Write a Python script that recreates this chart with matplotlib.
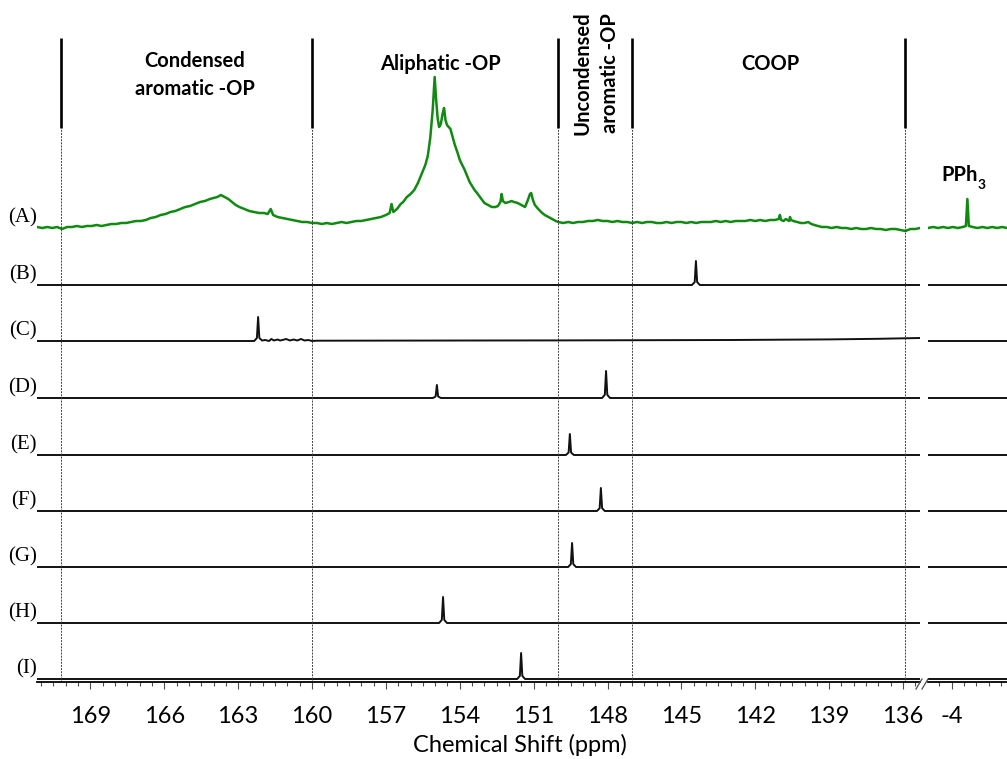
import numpy as np
import matplotlib.pyplot as plt
from matplotlib.lines import Line2D
import matplotlib.transforms as mtransforms

# ---- data ----
row_labels = ['(A)', '(B)', '(C)', '(D)', '(E)', '(F)', '(G)', '(H)', '(I)']

# (A) lignin sample, main window (ppm, intensity)
a_ppm = [171.17, 170.95, 170.75, 170.55, 170.35, 170.15, 169.95, 169.75, 169.55, 169.35,
         169.15, 168.95, 168.75, 168.55, 168.35, 168.15, 167.95, 167.75, 167.55, 167.35,
         167.15, 166.95, 166.75, 166.55, 166.35, 166.15, 165.95, 165.75, 165.55, 165.35,
         165.15, 164.95, 164.75, 164.55, 164.35, 164.15, 164.00, 163.85, 163.70, 163.55,
         163.40, 163.25, 163.10, 162.95, 162.75, 162.55, 162.35, 162.15, 161.95, 161.80,
         161.68, 161.58, 161.40, 161.20, 161.00, 160.80, 160.60, 160.40, 160.20, 160.00,
         159.80, 159.60, 159.40, 159.20, 159.00, 158.80, 158.60, 158.40, 158.20, 158.00,
         157.80, 157.60, 157.40, 157.20, 157.00, 156.85, 156.77, 156.70, 156.55, 156.40,
         156.30, 156.15, 156.00, 155.85, 155.70, 155.55, 155.40, 155.30, 155.20, 155.10,
         155.02, 154.96, 154.90, 154.84, 154.77, 154.70, 154.64, 154.58, 154.52, 154.45,
         154.38, 154.30, 154.20, 154.10, 154.00, 153.90, 153.80, 153.70, 153.60, 153.50,
         153.40, 153.30, 153.15, 153.00, 152.85, 152.70, 152.55, 152.45, 152.35, 152.30,
         152.25, 152.15, 152.00, 151.90, 151.80, 151.65, 151.50, 151.35, 151.25, 151.15,
         151.10, 151.03, 150.95, 150.85, 150.70, 150.55, 150.40, 150.25, 150.10, 150.00,
         149.80, 149.60, 149.40, 149.20, 149.00, 148.80, 148.60, 148.40, 148.20, 148.00,
         147.80, 147.60, 147.40, 147.20, 147.00, 146.80, 146.60, 146.40, 146.20, 146.00,
         145.80, 145.60, 145.40, 145.20, 145.00, 144.80, 144.60, 144.40, 144.20, 144.00,
         143.80, 143.60, 143.40, 143.20, 143.00, 142.80, 142.60, 142.40, 142.20, 142.00,
         141.80, 141.60, 141.40, 141.20, 141.05, 141.00, 140.95, 140.85, 140.76, 140.62,
         140.59, 140.55, 140.45, 140.30, 140.15, 140.00, 139.85, 139.72, 139.60, 139.45,
         139.30, 139.10, 138.90, 138.70, 138.50, 138.30, 138.10, 137.90, 137.70, 137.50,
         137.30, 137.10, 136.90, 136.70, 136.50, 136.30, 136.10, 135.90, 135.70, 135.50,
         135.31]
a_int = [1, 0, 1, 0, 1, -1, 1, 1, 2, 1,
         2, 2, 3, 2, 3, 4, 4, 5, 5, 6,
         7, 7, 8, 10, 11, 13, 14, 16, 17, 19,
         21, 22, 24, 26, 27, 29, 30, 31, 33, 31,
         29, 26, 23, 21, 19, 17, 16, 15, 15, 14,
         19, 13, 11, 10, 9, 8, 7, 6, 6, 5,
         5, 4, 5, 4, 5, 6, 5, 6, 7, 7,
         8, 9, 10, 11, 13, 15, 24, 16, 19, 24,
         26, 31, 34, 38, 45, 54, 63, 72, 90, 118,
         151, 128, 110, 101, 104, 114, 120, 108, 103, 101,
         99, 92, 83, 76, 68, 63, 58, 52, 46, 42,
         38, 35, 30, 25, 23, 21, 21, 22, 26, 34,
         27, 25, 26, 27, 26, 25, 23, 21, 27, 34,
         35, 28, 23, 20, 16, 13, 11, 9, 7, 6,
         5, 6, 5, 6, 6, 7, 7, 8, 7, 7,
         6, 7, 6, 6, 5, 6, 5, 6, 6, 5,
         5, 6, 5, 6, 6, 5, 6, 5, 6, 6,
         6, 7, 6, 7, 6, 7, 7, 7, 8, 7,
         8, 7, 8, 8, 9, 13, 8, 7, 9, 7,
         11, 8, 7, 6, 5, 5, 6, 4, 3, 2,
         1, 1, 0, 1, 0, 0, -1, 0, -1, -1,
         0, -1, -1, -2, -1, -1, -2, -3, -1, -1,
         0]

# (A) PPh3 window
a_ppm_r = [-3.04, -3.25, -3.45, -3.65, -3.85, -4.05, -4.25, -4.45, -4.58, -4.64,
           -4.70, -4.85, -5.05, -5.25, -5.45, -5.65, -5.85, -6.05, -6.25]
a_int_r = [0, 1, 0, 1, 0, 1, 0, 1, 2, 29, 2, 1, 0, 1, 0, 1, 0, 1, 0]

# (C) has a small noisy patch after its signal and a slow rise towards the right end
c_ppm = [171.17, 162.35, 162.24, 162.19, 162.14, 162.03, 161.90, 161.75, 161.65, 161.55,
         161.40, 161.30, 161.20, 161.05, 160.90, 160.75, 160.60, 160.45, 160.30, 160.15,
         160.00, 159.80, 150.00, 143.00, 139.00, 137.00, 135.31]
c_int = [0, 0, 3, 24, 3, 0.5, 1, 0, 2, 0.5,
         1.5, 0.5, 1, 2, 0.5, 1.5, 0.5, 2, 0.5, 1,
         0, 0.3, 0.6, 1.0, 1.6, 2.2, 3]

# sharp signals of the other model compounds: ppm and height
peak_ppm = [[144.41],
            None,
            [154.93, 148.06],
            [149.53],
            [148.27],
            [149.44],
            [154.68],
            [151.51]]
peak_height = [[24],
               None,
               [13, 27],
               [21],
               [23],
               [24],
               [26],
               [26]]

region_edges = [170.2, 160.0, 150.0, 147.0, 135.9]
main_ticks = [169, 166, 163, 160, 157, 154, 151, 148, 145, 142, 139, 136]
right_ticks = [-4]

# ---- layout ----
W, H = 1007, 759
AX_BOTTOM = 682  # pixel row of the axis line
offsets = [454, 397, 341, 284, 227, 171, 115, 59, 3]
MAIN_LIM = (171.17, 135.31)
RIGHT_LIM = (-3.04, -6.25)
GREEN = '#108a10'
INK = '#111111'

plt.rcParams['font.family'] = ['Lato', 'DejaVu Sans']
plt.rcParams['axes.unicode_minus'] = False

fig = plt.figure(figsize=(W / 100, H / 100), dpi=100)
ax = fig.add_axes([37 / W, (H - AX_BOTTOM) / H, (920 - 37) / W, AX_BOTTOM / H])
ax2 = fig.add_axes([928 / W, (H - AX_BOTTOM) / H, (W - 928) / W, AX_BOTTOM / H])


def spike_trace(ppms, heights, lim):
    # baseline with narrow lines at each signal
    xs, ys = [lim[0]], [0]
    for p, h in sorted(zip(ppms, heights), reverse=True):
        xs += [p + 0.16, p + 0.05, p, p - 0.05, p - 0.16]
        ys += [0, 0.12 * h, h, 0.12 * h, 0]
    xs.append(lim[1])
    ys.append(0)
    return np.array(xs), np.array(ys)


# spectra
ax.plot(a_ppm, np.array(a_int) + offsets[0], color=GREEN, lw=1.8, solid_joinstyle='round')
ax2.plot(a_ppm_r, np.array(a_int_r) + offsets[0], color=GREEN, lw=1.8, solid_joinstyle='round')
for i in range(8):
    if peak_ppm[i] is None:
        xs, ys = np.array(c_ppm), np.array(c_int)
    else:
        xs, ys = spike_trace(peak_ppm[i], peak_height[i], MAIN_LIM)
    ax.plot(xs, ys + offsets[i + 1], color=INK, lw=1.4)
    ax2.plot(RIGHT_LIM, [offsets[i + 1]] * 2, color=INK, lw=1.4)

# region markers
for e in region_edges:
    ax.plot([e, e], [554, 644], color='black', lw=1.9, solid_capstyle='butt')
    ax.plot([e, e], [0, 554], color='0.25', lw=0.7, ls=(0, (2, 1.2)))

hdr = dict(fontsize=14.5, fontweight='bold', ha='center', va='center', color='black')
ax.text(164.75, 607, 'Condensed\naromatic -OP', linespacing=1.45, **hdr)
ax.text(154.8, 618, 'Aliphatic -OP', **hdr)
ax.text(141.4, 618, 'COOP', **hdr)
ax.text(148.45, 609, 'Uncondensed\naromatic -OP', rotation=90, linespacing=1.45, **hdr)
t = ax2.text(-3.57, 507, 'PPh', fontsize=14.5, fontweight='bold', ha='left', va='center')
ax2.annotate('3', xy=(1.0, 0.0), xycoords=t, fontsize=10, fontweight='bold',
             ha='left', va='center')

# row labels
trans = mtransforms.blended_transform_factory(ax.transAxes, ax.transData)
for lab, off in zip(row_labels, offsets):
    ax.text(0.0, off + 1, lab, transform=trans, ha='right', va='bottom',
            fontsize=15, family='Liberation Serif')

# axes styling
for a, lim in ((ax, MAIN_LIM), (ax2, RIGHT_LIM)):
    a.set_xlim(*lim)
    a.set_ylim(0, AX_BOTTOM)
    a.set_yticks([])
    for s in ('left', 'right', 'top'):
        a.spines[s].set_visible(False)
    a.spines['bottom'].set_linewidth(1.3)
    a.tick_params(axis='x', which='major', length=5, width=0.8, pad=12,
                  labelsize=17, color='0.3')
    a.tick_params(axis='x', which='minor', length=3, width=0.8, color='0.3')
    a.patch.set_visible(False)

ax.set_xticks(main_ticks)
ax.set_xticks(np.arange(135.5, 171.1, 0.5), minor=True)
ax2.set_xticks(right_ticks)
ax2.set_xticks(np.arange(-6.0, -3.0, 0.5), minor=True)

# axis break marks
for x0 in (916, 922):
    fig.add_artist(Line2D([x0 / W, (x0 + 6) / W], [(H - 689) / H, (H - 679) / H],
                          color='0.3', lw=0.9))

fig.text(520 / W, 1 - 745 / H, 'Chemical Shift (ppm)', ha='center', va='center', fontsize=17)

fig.savefig('out.png', dpi=100)
